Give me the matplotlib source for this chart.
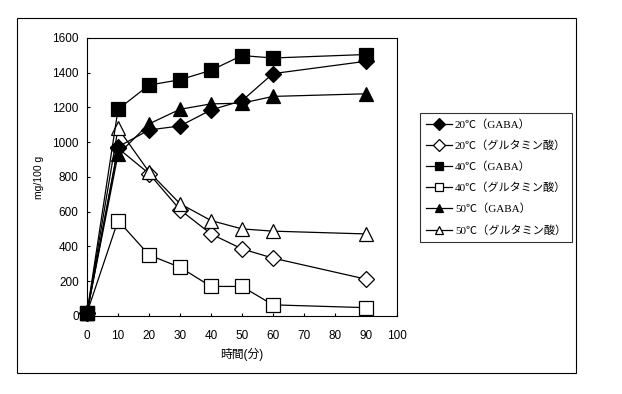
import matplotlib
matplotlib.use('Agg')
import matplotlib.pyplot as plt
from matplotlib.patches import Rectangle

plt.rcParams['font.family'] = ['Liberation Sans', 'Noto Sans CJK JP']

# time (min)
t = [0, 10, 20, 30, 40, 50, 60, 90]

# mg/100 g
gaba_20 = [20, 973, 1070, 1093, 1185, 1238, 1394, 1465]
glu_20 = [20, 965, 819, 611, 472, 386, 333, 212]
gaba_40 = [20, 1189, 1328, 1359, 1413, 1498, 1484, 1504]
glu_40 = [20, 549, 351, 280, 170, 170, 64, 48]
gaba_50 = [20, 930, 1105, 1189, 1220, 1224, 1263, 1278]
glu_50 = [20, 1080, 829, 646, 549, 501, 488, 472]

labels = ['20℃（GABA）', '20℃（グルタミン酸）', '40℃（GABA）',
          '40℃（グルタミン酸）', '50℃（GABA）', '50℃（グルタミン酸）']
series = [gaba_20, glu_20, gaba_40, glu_40, gaba_50, glu_50]
markers = ['D', 'D', 's', 's', '^', '^']
fills = ['black', 'white', 'black', 'white', 'black', 'white']
msizes = [8, 8, 9.5, 9.5, 9.5, 9.5]

fig = plt.figure(figsize=(6.22, 3.94), dpi=100)
ax = fig.add_axes([0.140, 0.198, 0.498, 0.706])

# outer chart frame
fig.patches.append(Rectangle((0.0273, 0.0533), 0.899, 0.901, transform=fig.transFigure,
                             fill=False, edgecolor='black', lw=0.8))

lines = []
for y, m, fc, ms, lab in zip(series, markers, fills, msizes, labels):
    # filled (GABA) markers drawn over the open ones
    z = 3 if fc == 'black' else 2
    ln, = ax.plot(t, y, color='black', lw=0.9, marker=m, markersize=ms,
                  markerfacecolor=fc, markeredgecolor='black', markeredgewidth=0.9,
                  label=lab, clip_on=False, zorder=z)
    lines.append(ln)

ax.set_xlim(0, 100)
ax.set_ylim(0, 1600)
ax.set_xticks(range(0, 101, 10))
ax.set_yticks(range(0, 1601, 200))
ax.tick_params(direction='in', length=2, width=0.8, labelsize=8.5, pad=6)
ax.tick_params(axis='x', pad=10)
for s in ax.spines.values():
    s.set_linewidth(0.8)

ax.set_xlabel('時間(分)', fontsize=8.5, labelpad=4)
ax.set_ylabel('mg/100 g', fontsize=7.5, labelpad=6)

leg = fig.legend(handles=lines, loc='upper left', bbox_to_anchor=(0.675, 0.713),
                 frameon=True, fancybox=False, edgecolor='black',
                 prop={'family': ['Liberation Serif', 'Noto Sans CJK JP'], 'size': 8},
                 labelspacing=0.95, handlelength=2.3, handletextpad=0.3,
                 borderpad=0.55, borderaxespad=0)
leg.get_frame().set_linewidth(0.8)
for h in leg.legend_handles:
    h.set_markersize(6)

fig.savefig('out.png', dpi=100)
